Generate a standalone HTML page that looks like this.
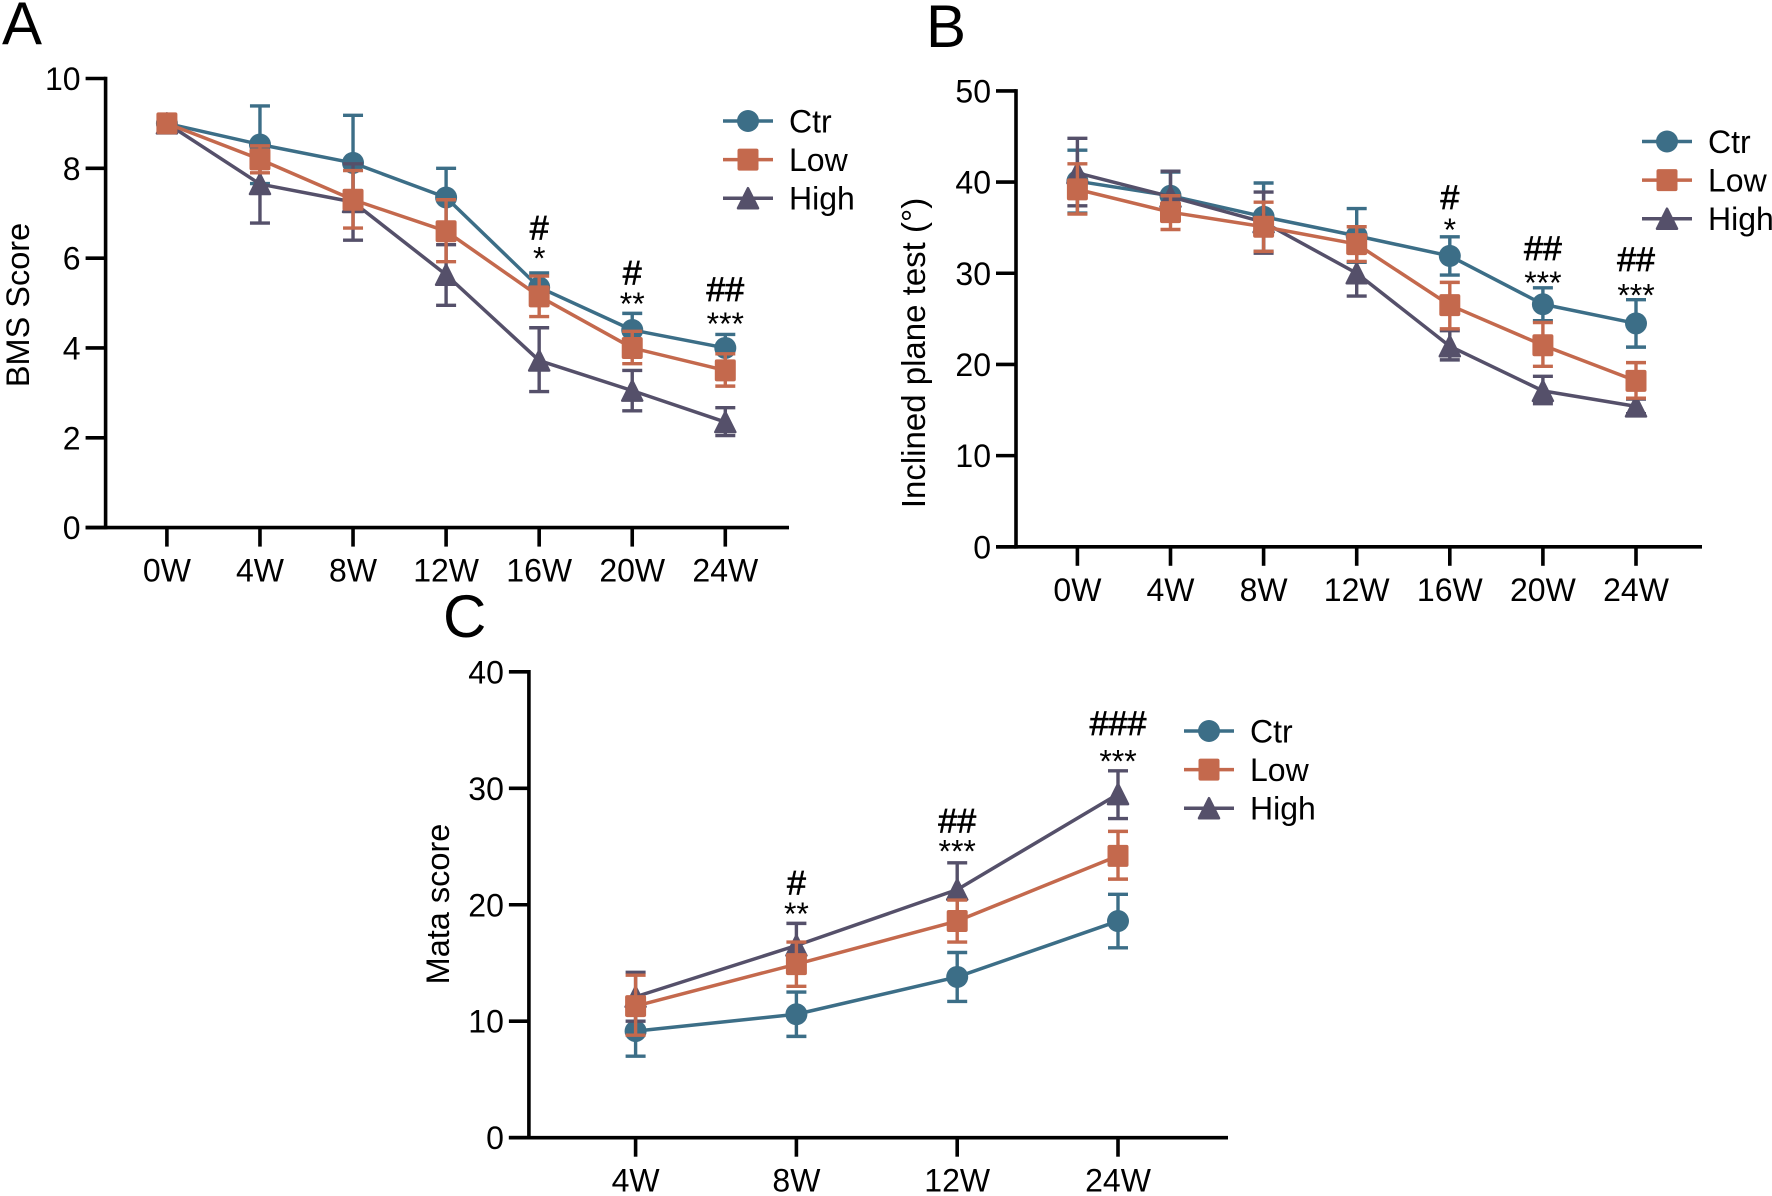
<!DOCTYPE html>
<html lang="en">
<head>
<meta charset="utf-8">
<title>BMS, inclined plane and Mata scores</title>
<style>
  html, body { margin: 0; padding: 0; background: #ffffff; }
  svg { display: block; }
  text { font-family: "Liberation Sans", sans-serif; fill: #000000; }
</style>
</head>
<body>
<svg id="figure" xmlns="http://www.w3.org/2000/svg" width="1772" height="1196" viewBox="0 0 1772 1196"></svg>
<script>
// ---------- Panel A data ----------
const aCategories = ['0W', '4W', '8W', '12W', '16W', '20W', '24W'];
const aYTicks = [0, 2, 4, 6, 8, 10];
const aCtr = [9, 8.53, 8.12, 7.35, 5.35, 4.4, 4.0];
const aCtrUpper = [9, 9.39, 9.18, 8.0, 5.67, 4.77, 4.3];
const aCtrLower = [9, 7.66, 7.1, 6.7, 5.03, 4.03, 3.7];
const aLow = [9, 8.2, 7.3, 6.6, 5.15, 4.0, 3.5];
const aLowUpper = [9, 8.5, 7.95, 7.3, 5.6, 4.37, 3.87];
const aLowLower = [9, 7.9, 6.67, 5.92, 4.7, 3.65, 3.15];
const aHigh = [9, 7.65, 7.25, 5.63, 3.72, 3.05, 2.35];
const aHighUpper = [9, 8.5, 8.1, 6.3, 4.45, 3.5, 2.67];
const aHighLower = [9, 6.78, 6.4, 4.95, 3.03, 2.6, 2.05];
const aNoteCategories = ['16W', '20W', '24W'];
const aHashLabels = ['#', '#', '##'];
const aHashLevels = [6.63, 5.62, 5.26];
const aStarLabels = ['*', '**', '***'];
const aStarLevels = [6.13, 5.11, 4.67];

// ---------- Panel B data ----------
const bCategories = ['0W', '4W', '8W', '12W', '16W', '20W', '24W'];
const bYTicks = [0, 10, 20, 30, 40, 50];
const bCtr = [40.1, 38.5, 36.2, 34.1, 31.9, 26.6, 24.5];
const bCtrUpper = [43.5, 41.1, 39.9, 37.1, 34, 28.4, 27.1];
const bCtrLower = [36.6, 36, 32.4, 31.2, 29.8, 24.8, 21.9];
const bLow = [39.2, 36.7, 35.1, 33.2, 26.5, 22.1, 18.2];
const bLowUpper = [42, 38.5, 37.8, 35.1, 29, 24.6, 20.2];
const bLowLower = [36.5, 34.8, 32.4, 31.3, 23.9, 19.8, 16.3];
const bHigh = [41, 38.4, 35.6, 30, 22, 17.1, 15.4];
const bHighUpper = [44.8, 41.2, 38.9, 32.5, 23.7, 18.7, 16.2];
const bHighLower = [37.4, 36, 32.2, 27.5, 20.5, 15.7, 14.6];
const bNoteCategories = ['16W', '20W', '24W'];
const bHashLabels = ['#', '##', '##'];
const bHashLevels = [38.1, 32.5, 31.3];
const bStarLabels = ['*', '***', '***'];
const bStarLevels = [35.4, 29.6, 28.2];

// ---------- Panel C data ----------
const cCategories = ['4W', '8W', '12W', '24W'];
const cYTicks = [0, 10, 20, 30, 40];
const cCtr = [9.15, 10.6, 13.8, 18.6];
const cCtrUpper = [11.3, 12.5, 15.9, 20.9];
const cCtrLower = [7, 8.7, 11.7, 16.3];
const cLow = [11.3, 14.9, 18.6, 24.2];
const cLowUpper = [13.95, 16.8, 20.4, 26.3];
const cLowLower = [8.8, 13, 16.8, 22.2];
const cHigh = [12.1, 16.5, 21.3, 29.5];
const cHighUpper = [14.2, 18.4, 23.6, 31.5];
const cHighLower = [10, 14.6, 19, 27.4];
const cNoteCategories = ['8W', '12W', '24W'];
const cHashLabels = ['#', '##', '###'];
const cHashLevels = [21.7, 27, 35.4];
const cStarLabels = ['**', '***', '***'];
const cStarLevels = [19.7, 25.1, 32.8];

const seriesColors = { Ctr: '#3c6e87', Low: '#c4694d', High: '#55506a' };
const seriesOrder = ['Ctr', 'High', 'Low'];
const legendOrder = ['Ctr', 'Low', 'High'];

const NS = 'http://www.w3.org/2000/svg';
const root = document.getElementById('figure');

function make(tag, attrs, parent, content) {
  const el = document.createElementNS(NS, tag);
  for (const key in attrs) el.setAttribute(key, attrs[key]);
  if (content !== undefined) el.textContent = content;
  parent.appendChild(el);
  return el;
}

function drawMarker(kind, cx, cy, color, parent) {
  let el;
  if (kind === 'Ctr') {
    el = make('circle', { cx: cx, cy: cy, r: 11, fill: color }, parent);
  } else if (kind === 'Low') {
    el = make('rect', { x: cx - 10.5, y: cy - 11, width: 21, height: 22, rx: 2, fill: color }, parent);
  } else {
    const pts = [cx + ',' + (cy - 10), (cx + 10) + ',' + (cy + 10), (cx - 10) + ',' + (cy + 10)].join(' ');
    el = make('polygon', { points: pts, fill: color, stroke: color, 'stroke-width': 2.5, 'stroke-linejoin': 'round' }, parent);
  }
  
  
  return el;
}

function drawPanel(p) {
  const g = make('g', {}, root);
  
  

  const yScale = function (v) { return p.y0 - (v / p.yMax) * (p.y0 - p.y1); };
  const xScale = function (i) { return p.x0 + i * (p.xN - p.x0) / (p.categories.length - 1); };

  const letter = make('text', { x: p.letterX, y: p.letterY, 'font-size': 60 }, g, p.letter);
  
  

  // Y axis
  const yAxis = make('line', { x1: p.axisX, x2: p.axisX, y1: p.y1 - 1.8, y2: p.y0 + 1.8, stroke: '#000', 'stroke-width': 3.6 }, g);
  
  
  p.yTicks.forEach(function (t) {
    const tick = make('line', { x1: p.axisX - 20, x2: p.axisX, y1: yScale(t), y2: yScale(t), stroke: '#000', 'stroke-width': 3.6 }, g);
    
    
    const label = make('text', { x: p.axisX - 25, y: yScale(t) + 11.5, 'font-size': 32, 'text-anchor': 'end' }, g, String(t));
    
    
  });

  // X axis
  const xAxis = make('line', { x1: p.axisX - 20, x2: p.axisRight, y1: p.y0, y2: p.y0, stroke: '#000', 'stroke-width': 3.6 }, g);
  
  
  p.categories.forEach(function (c, i) {
    const tick = make('line', { x1: xScale(i), x2: xScale(i), y1: p.y0, y2: p.y0 + 19, stroke: '#000', 'stroke-width': 3.6 }, g);
    
    
    const label = make('text', { x: xScale(i), y: p.y0 + 54, 'font-size': 32, 'text-anchor': 'middle' }, g, c);
    
    
  });

  // Y title
  const title = make('text', {
    x: 0, y: 0, 'font-size': p.titleSize, 'text-anchor': 'middle',
    transform: 'translate(' + p.titleX + ',' + p.titleY + ') rotate(-90)'
  }, g, p.yTitle);
  
  

  // Series
  seriesOrder.forEach(function (name) {
    const s = p.series[name];
    const color = seriesColors[name];
    const sg = make('g', {}, g);
    
    

    s.values.forEach(function (v, i) {
      const x = xScale(i);
      const top = yScale(s.upper[i]);
      const bot = yScale(s.lower[i]);
      const bar = make('path', {
        d: 'M' + x + ' ' + top + 'V' + bot + 'M' + (x - 10) + ' ' + top + 'H' + (x + 10) + 'M' + (x - 10) + ' ' + bot + 'H' + (x + 10),
        fill: 'none', stroke: color, 'stroke-width': 3.4
      }, sg);
      
      
    });

    const pts = s.values.map(function (v, i) { return xScale(i) + ',' + yScale(v); }).join(' ');
    const line = make('polyline', { points: pts, fill: 'none', stroke: color, 'stroke-width': 3.5, 'stroke-linejoin': 'round' }, sg);
    
    

    s.values.forEach(function (v, i) {
      drawMarker(name, xScale(i), yScale(v), color, sg);
    });
  });

  // Significance labels
  p.noteCategories.forEach(function (c, i) {
    const x = xScale(p.categories.indexOf(c));
    const hash = make('text', {
      x: x, y: yScale(p.hashLevels[i]) + 9.5, 'font-size': 34, 'text-anchor': 'middle',
      stroke: '#000', 'stroke-width': 0.7
    }, g, p.hashLabels[i]);
    
    
    const star = make('text', { x: x, y: yScale(p.starLevels[i]) + 17, 'font-size': 32, 'text-anchor': 'middle' }, g, p.starLabels[i]);
    
    
  });

  // Legend
  legendOrder.forEach(function (name, i) {
    const ly = p.legendY + i * 38.6;
    const color = seriesColors[name];
    const lg = make('g', {}, g);
    
    
    const sw = make('line', { x1: p.legendX, x2: p.legendX + 50, y1: ly, y2: ly, stroke: color, 'stroke-width': 3.5 }, lg);
    
    
    drawMarker(name, p.legendX + 25, ly, color, lg);
    const label = make('text', { x: p.legendX + 66, y: ly + 11.5, 'font-size': 32 }, lg, name);
    
    
  });
}

drawPanel({
  letter: 'A', letterX: 2, letterY: 44,
  axisX: 105.6, axisRight: 789, x0: 166.9, xN: 725.3, y0: 527.6, y1: 78.5, yMax: 10,
  titleX: 29, titleY: 305, titleSize: 32.5, yTitle: 'BMS Score',
  legendX: 723, legendY: 121,
  categories: aCategories, yTicks: aYTicks,
  series: {
    Ctr: { values: aCtr, upper: aCtrUpper, lower: aCtrLower },
    Low: { values: aLow, upper: aLowUpper, lower: aLowLower },
    High: { values: aHigh, upper: aHighUpper, lower: aHighLower }
  },
  noteCategories: aNoteCategories, hashLabels: aHashLabels, hashLevels: aHashLevels,
  starLabels: aStarLabels, starLevels: aStarLevels
});

drawPanel({
  letter: 'B', letterX: 926, letterY: 47,
  axisX: 1016, axisRight: 1702, x0: 1077.4, xN: 1636, y0: 546.8, y1: 90.9, yMax: 50,
  titleX: 925, titleY: 353, titleSize: 33, yTitle: 'Inclined plane test (°)',
  legendX: 1642, legendY: 141.5,
  categories: bCategories, yTicks: bYTicks,
  series: {
    Ctr: { values: bCtr, upper: bCtrUpper, lower: bCtrLower },
    Low: { values: bLow, upper: bLowUpper, lower: bLowLower },
    High: { values: bHigh, upper: bHighUpper, lower: bHighLower }
  },
  noteCategories: bNoteCategories, hashLabels: bHashLabels, hashLevels: bHashLevels,
  starLabels: bStarLabels, starLevels: bStarLevels
});

drawPanel({
  letter: 'C', letterX: 443, letterY: 637,
  axisX: 528.9, axisRight: 1228, x0: 635.6, xN: 1118, y0: 1137.7, y1: 671.8, yMax: 40,
  titleX: 449, titleY: 904, titleSize: 32.5, yTitle: 'Mata score',
  legendX: 1184, legendY: 731,
  categories: cCategories, yTicks: cYTicks,
  series: {
    Ctr: { values: cCtr, upper: cCtrUpper, lower: cCtrLower },
    Low: { values: cLow, upper: cLowUpper, lower: cLowLower },
    High: { values: cHigh, upper: cHighUpper, lower: cHighLower }
  },
  noteCategories: cNoteCategories, hashLabels: cHashLabels, hashLevels: cHashLevels,
  starLabels: cStarLabels, starLevels: cStarLevels
});
</script>
</body>
</html>
